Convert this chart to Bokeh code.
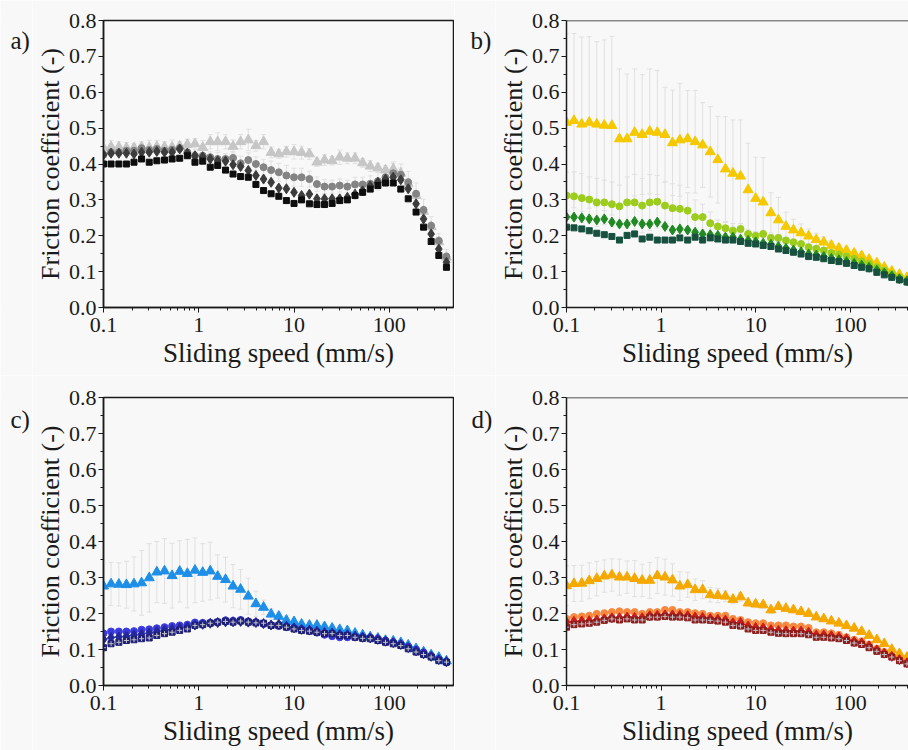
from bokeh.plotting import figure
from bokeh.models import FixedTicker, Label, Span
from bokeh.layouts import column, row
from bokeh.embed import file_html
from bokeh.resources import INLINE

FONT = "Liberation Serif"

# ---------------- data ----------------
speed = [0.1, 0.12, 0.145, 0.174, 0.209, 0.251, 0.302, 0.363, 0.437, 0.525, 0.631, 0.759, 0.912,
         1.1, 1.32, 1.58, 1.91, 2.29, 2.75, 3.31, 3.98, 4.79, 5.75, 6.92, 8.32,
         10.0, 12.0, 14.5, 17.4, 20.9, 25.1, 30.2, 36.3, 43.7, 52.5, 63.1, 75.9, 91.2,
         110, 132, 158, 191, 229, 275, 331, 398]

y_ticks = [0.0, 0.1, 0.2, 0.3, 0.4, 0.5, 0.6, 0.7, 0.8]
y_tick_labels = ["0.0", "0.1", "0.2", "0.3", "0.4", "0.5", "0.6", "0.7", "0.8"]
y_minor = [0.05, 0.15, 0.25, 0.35, 0.45, 0.55, 0.65, 0.75]
x_ticks = [0.1, 1, 10, 100]
x_tick_labels = ["0.1", "1", "10", "100"]
x_minor = [0.2, 0.3, 0.4, 0.5, 0.6, 0.7, 0.8, 0.9, 2, 3, 4, 5, 6, 7, 8, 9,
           20, 30, 40, 50, 60, 70, 80, 90, 200, 300, 400]

panel_tags = ["a)", "b)", "c)", "d)"]
x_label = "Sliding speed (mm/s)"
y_label = "Friction coefficient (-)"

# panel a (grey)
a_sq = [0.400, 0.400, 0.400, 0.400, 0.405, 0.414, 0.405, 0.409, 0.411, 0.414, 0.416, 0.423, 0.405,
        0.408, 0.391, 0.396, 0.383, 0.372, 0.365, 0.363, 0.343, 0.326, 0.317,
        0.310, 0.298, 0.290, 0.300, 0.289, 0.287, 0.287, 0.290, 0.298, 0.300, 0.312, 0.321,
        0.330, 0.340, 0.347, 0.347, 0.330, 0.303, 0.266, 0.224, 0.184, 0.145, 0.112]
a_di = [0.426, 0.430, 0.430, 0.430, 0.428, 0.433, 0.433, 0.435, 0.433, 0.433, 0.442, 0.430, 0.423,
        0.420, 0.414, 0.409, 0.408, 0.398, 0.393, 0.382, 0.368, 0.358, 0.349,
        0.333, 0.331, 0.321, 0.312, 0.316, 0.303, 0.303, 0.303, 0.303, 0.307, 0.316, 0.325,
        0.339, 0.349, 0.358, 0.363, 0.356, 0.331, 0.289, 0.247, 0.205, 0.163, 0.126]
a_ci = [0.426, 0.433, 0.433, 0.437, 0.437, 0.444, 0.439, 0.442, 0.437, 0.440, 0.444, 0.433, 0.423,
        0.423, 0.419, 0.414, 0.414, 0.417, 0.402, 0.411, 0.400, 0.391, 0.383,
        0.377, 0.368, 0.363, 0.363, 0.358, 0.344, 0.337, 0.337, 0.340, 0.337, 0.343, 0.343,
        0.345, 0.352, 0.363, 0.374, 0.370, 0.349, 0.317, 0.272, 0.228, 0.186, 0.142]
a_tr = [0.445, 0.448, 0.447, 0.445, 0.445, 0.447, 0.446, 0.448, 0.447, 0.447, 0.450, 0.454, 0.456,
        0.446, 0.462, 0.462, 0.462, 0.449, 0.462, 0.467, 0.451, 0.462, 0.432,
        0.428, 0.434, 0.434, 0.432, 0.428, 0.405, 0.411, 0.409, 0.419, 0.416, 0.416, 0.403,
        0.394, 0.389, 0.383, 0.386, 0.374, 0.345, 0.312, 0.268, 0.225, 0.183, 0.140]
a_tr_err = [0.020, 0.018, 0.015, 0.015, 0.012, 0.015, 0.020, 0.018, 0.015, 0.020, 0.012, 0.015, 0.015,
            0.020, 0.020, 0.025, 0.020, 0.018, 0.020, 0.030, 0.015, 0.020, 0.015,
            0.012, 0.015, 0.020, 0.018, 0.015, 0.012, 0.015, 0.012, 0.020, 0.015, 0.015, 0.012,
            0.015, 0.012, 0.012, 0.020, 0.015, 0.015, 0.012, 0.010, 0.010, 0.010, 0.010]
a_ci_err = [0.012, 0.012, 0.010, 0.012, 0.010, 0.012, 0.010, 0.012, 0.010, 0.012, 0.012, 0.015, 0.012,
            0.015, 0.015, 0.018, 0.015, 0.018, 0.020, 0.020, 0.020, 0.022, 0.025,
            0.025, 0.028, 0.025, 0.025, 0.022, 0.020, 0.020, 0.018, 0.018, 0.018, 0.020, 0.020,
            0.022, 0.025, 0.025, 0.027, 0.030, 0.030, 0.030, 0.030, 0.025, 0.020, 0.020]

# panel b (green / yellow)
b_sq = [0.224, 0.222, 0.219, 0.214, 0.207, 0.203, 0.198, 0.188, 0.201, 0.205, 0.191, 0.196, 0.188,
        0.188, 0.188, 0.194, 0.188, 0.196, 0.188, 0.194, 0.191, 0.188, 0.188,
        0.184, 0.179, 0.177, 0.173, 0.170, 0.163, 0.159, 0.154, 0.149, 0.142, 0.140, 0.136,
        0.131, 0.128, 0.123, 0.117, 0.112, 0.108, 0.098, 0.091, 0.084, 0.077, 0.071]
b_di = [0.252, 0.252, 0.250, 0.247, 0.244, 0.247, 0.238, 0.233, 0.233, 0.240, 0.233, 0.233, 0.238,
        0.226, 0.216, 0.219, 0.216, 0.210, 0.205, 0.203, 0.201, 0.196, 0.196,
        0.190, 0.187, 0.183, 0.179, 0.176, 0.170, 0.165, 0.160, 0.155, 0.149, 0.146, 0.142,
        0.137, 0.133, 0.128, 0.123, 0.118, 0.112, 0.104, 0.096, 0.088, 0.080, 0.074]
b_ci = [0.312, 0.310, 0.305, 0.301, 0.293, 0.293, 0.288, 0.282, 0.293, 0.293, 0.284, 0.293, 0.295,
        0.284, 0.277, 0.275, 0.270, 0.252, 0.252, 0.235, 0.226, 0.221, 0.214,
        0.219, 0.205, 0.200, 0.205, 0.194, 0.194, 0.187, 0.182, 0.177, 0.168, 0.164, 0.159,
        0.152, 0.148, 0.142, 0.136, 0.129, 0.122, 0.112, 0.103, 0.094, 0.084, 0.075]
b_tr = [0.516, 0.521, 0.511, 0.516, 0.511, 0.508, 0.507, 0.470, 0.470, 0.488, 0.482, 0.491, 0.488,
        0.482, 0.459, 0.467, 0.470, 0.462, 0.453, 0.434, 0.412, 0.386, 0.374,
        0.366, 0.328, 0.304, 0.294, 0.264, 0.244, 0.226, 0.216, 0.208, 0.199, 0.189, 0.182,
        0.173, 0.165, 0.159, 0.151, 0.144, 0.134, 0.124, 0.112, 0.101, 0.092, 0.083]
b_tr_err = [0.247, 0.243, 0.243, 0.239, 0.230, 0.238, 0.249, 0.195, 0.181, 0.177, 0.167, 0.174, 0.173,
            0.132, 0.147, 0.157, 0.135, 0.143, 0.118, 0.126, 0.121, 0.146, 0.149,
            0.157, 0.130, 0.115, 0.124, 0.056, 0.063, 0.040, 0.030, 0.025, 0.020, 0.018, 0.015,
            0.012, 0.012, 0.010, 0.010, 0.008, 0.008, 0.008, 0.006, 0.006, 0.005, 0.005]
b_ci_err = [0.065, 0.068, 0.068, 0.063, 0.067, 0.062, 0.062, 0.059, 0.071, 0.078, 0.076, 0.078, 0.073,
            0.066, 0.068, 0.066, 0.050, 0.048, 0.036, 0.031, 0.018, 0.016, 0.020,
            0.015, 0.012, 0.012, 0.010, 0.010, 0.010, 0.008, 0.008, 0.008, 0.007, 0.007, 0.006,
            0.006, 0.006, 0.005, 0.005, 0.005, 0.005, 0.005, 0.004, 0.004, 0.004, 0.004]

# panel c (blue)
c_sq = [0.105, 0.116, 0.120, 0.125, 0.127, 0.130, 0.132, 0.139, 0.144, 0.148, 0.153, 0.157, 0.167,
        0.169, 0.173, 0.176, 0.178, 0.176, 0.179, 0.176, 0.174, 0.173, 0.167,
        0.167, 0.162, 0.157, 0.153, 0.151, 0.148, 0.144, 0.144, 0.139, 0.139, 0.134, 0.131,
        0.130, 0.125, 0.120, 0.116, 0.111, 0.102, 0.093, 0.086, 0.079, 0.069, 0.065]
c_di = [0.128, 0.133, 0.135, 0.137, 0.140, 0.143, 0.146, 0.150, 0.153, 0.156, 0.160, 0.163, 0.168,
        0.170, 0.173, 0.175, 0.177, 0.177, 0.178, 0.176, 0.175, 0.172, 0.168,
        0.170, 0.165, 0.160, 0.156, 0.154, 0.151, 0.147, 0.146, 0.142, 0.141, 0.137, 0.134,
        0.132, 0.128, 0.123, 0.119, 0.114, 0.105, 0.096, 0.088, 0.081, 0.072, 0.066]
c_ci = [0.145, 0.150, 0.150, 0.150, 0.151, 0.155, 0.156, 0.159, 0.162, 0.165, 0.167, 0.169, 0.175,
        0.174, 0.174, 0.176, 0.181, 0.180, 0.182, 0.178, 0.176, 0.171, 0.167,
        0.165, 0.163, 0.160, 0.156, 0.152, 0.147, 0.141, 0.137, 0.134, 0.134, 0.135, 0.135,
        0.133, 0.130, 0.125, 0.120, 0.115, 0.108, 0.100, 0.092, 0.082, 0.073, 0.064]
c_tr = [0.276, 0.282, 0.281, 0.280, 0.282, 0.285, 0.299, 0.315, 0.318, 0.305, 0.317, 0.311, 0.320,
        0.314, 0.318, 0.303, 0.294, 0.276, 0.267, 0.248, 0.227, 0.217, 0.198,
        0.192, 0.181, 0.177, 0.170, 0.167, 0.167, 0.163, 0.159, 0.155, 0.152, 0.145, 0.140,
        0.135, 0.131, 0.125, 0.123, 0.119, 0.112, 0.102, 0.093, 0.085, 0.078, 0.068]
c_tr_err = [0.065, 0.060, 0.060, 0.065, 0.075, 0.090, 0.095, 0.085, 0.090, 0.090, 0.085, 0.095, 0.090,
            0.080, 0.080, 0.060, 0.062, 0.060, 0.055, 0.050, 0.035, 0.020, 0.015,
            0.012, 0.012, 0.010, 0.010, 0.010, 0.008, 0.008, 0.008, 0.008, 0.006, 0.006, 0.006,
            0.006, 0.006, 0.005, 0.005, 0.005, 0.005, 0.005, 0.005, 0.004, 0.004, 0.004]

# panel d (red / orange)
d_sq = [0.162, 0.169, 0.171, 0.173, 0.176, 0.181, 0.185, 0.182, 0.185, 0.182, 0.182, 0.190, 0.190,
        0.192, 0.190, 0.190, 0.188, 0.182, 0.182, 0.181, 0.179, 0.176, 0.167,
        0.165, 0.157, 0.153, 0.153, 0.148, 0.145, 0.144, 0.144, 0.144, 0.141, 0.134, 0.134,
        0.132, 0.130, 0.125, 0.118, 0.114, 0.105, 0.095, 0.086, 0.079, 0.069, 0.060]
d_di = [0.176, 0.178, 0.179, 0.180, 0.182, 0.185, 0.188, 0.188, 0.190, 0.189, 0.188, 0.194, 0.195,
        0.196, 0.196, 0.195, 0.194, 0.190, 0.189, 0.186, 0.184, 0.182, 0.174,
        0.175, 0.165, 0.161, 0.160, 0.155, 0.153, 0.152, 0.151, 0.151, 0.148, 0.140, 0.140,
        0.138, 0.135, 0.130, 0.122, 0.118, 0.110, 0.099, 0.090, 0.081, 0.072, 0.063]
d_ci = [0.185, 0.190, 0.192, 0.194, 0.199, 0.201, 0.204, 0.206, 0.204, 0.204, 0.199, 0.204, 0.204,
        0.210, 0.210, 0.204, 0.204, 0.201, 0.199, 0.194, 0.194, 0.194, 0.185,
        0.182, 0.176, 0.173, 0.173, 0.167, 0.167, 0.167, 0.164, 0.164, 0.160, 0.148, 0.148,
        0.145, 0.141, 0.134, 0.127, 0.123, 0.114, 0.102, 0.093, 0.083, 0.074, 0.065]
d_tr = [0.277, 0.283, 0.284, 0.291, 0.297, 0.304, 0.307, 0.301, 0.301, 0.297, 0.292, 0.292, 0.305,
        0.301, 0.293, 0.276, 0.280, 0.266, 0.266, 0.252, 0.250, 0.248, 0.239,
        0.246, 0.229, 0.226, 0.224, 0.210, 0.219, 0.214, 0.210, 0.205, 0.200, 0.190, 0.185,
        0.179, 0.173, 0.166, 0.159, 0.150, 0.139, 0.127, 0.116, 0.100, 0.088, 0.078]
d_tr_err = [0.055, 0.050, 0.050, 0.050, 0.048, 0.045, 0.045, 0.050, 0.045, 0.050, 0.045, 0.050, 0.050,
            0.050, 0.045, 0.040, 0.035, 0.030, 0.025, 0.020, 0.020, 0.015, 0.012,
            0.012, 0.010, 0.010, 0.010, 0.010, 0.008, 0.008, 0.008, 0.008, 0.006, 0.006, 0.006,
            0.006, 0.005, 0.005, 0.005, 0.005, 0.005, 0.005, 0.004, 0.004, 0.004, 0.004]

# ---------------- styles ----------------
BG = "#f8f8f8"
ERR = "#e0e0e0"
TXT = "#1a1a1a"


def make_tag(tag, width, height, tx, ty):
    t = figure(width=width, height=height, x_range=(0, width), y_range=(0, height),
               x_axis_location=None, y_axis_location=None, min_border=0,
               output_backend="svg", toolbar_location=None)
    t.background_fill_color = BG
    t.border_fill_color = BG
    t.outline_line_color = None
    t.grid.visible = False
    t.add_layout(Label(x=tx, y=height - ty, text=tag, text_align="left",
                       text_baseline="alphabetic", text_font=FONT,
                       text_font_size="25px", text_color=TXT))
    return t


def make_panel(width, height, mb_left, mb_top, mb_bottom, x_end, right_box,
               series, errs, line=None, hatch=False):
    p = figure(width=width, height=height, x_axis_type="log",
               x_range=(0.1, x_end), y_range=(0, 0.8),
               output_backend="svg", toolbar_location=None,
               min_border_left=mb_left, min_border_right=1 if right_box else 0,
               min_border_top=mb_top, min_border_bottom=mb_bottom)
    p.background_fill_color = BG
    p.border_fill_color = BG
    p.grid.visible = False
    if right_box:
        p.outline_line_color = TXT
        p.outline_line_width = 1.5
    else:
        p.outline_line_color = None
        p.add_layout(Span(location=0.8, dimension="width", line_color=TXT, line_width=1.5))

    for ax in (p.xaxis[0], p.yaxis[0]):
        ax.axis_line_color = TXT
        ax.axis_line_width = 1.5
        ax.major_tick_line_color = TXT
        ax.minor_tick_line_color = TXT
        ax.major_tick_out = 5
        ax.major_tick_in = 0
        ax.minor_tick_out = 3
        ax.minor_tick_in = 0
        ax.major_label_text_font = FONT
        ax.major_label_text_font_size = "22px"
        ax.major_label_text_color = TXT
        ax.axis_label_text_font = FONT
        ax.axis_label_text_font_style = "normal"
        ax.axis_label_text_color = TXT

    p.xaxis.ticker = FixedTicker(ticks=x_ticks, minor_ticks=x_minor)
    p.xaxis.major_label_overrides = {t: l for t, l in zip(x_ticks, x_tick_labels)}
    p.xaxis.major_label_standoff = 5
    p.xaxis.axis_label = x_label
    p.xaxis.axis_label_text_font_size = "27px"
    p.xaxis.axis_label_standoff = 3
    p.yaxis.ticker = FixedTicker(ticks=y_ticks, minor_ticks=y_minor)
    p.yaxis.major_label_overrides = {t: l for t, l in zip(y_ticks, y_tick_labels)}
    p.yaxis.major_label_standoff = 2
    p.yaxis.axis_label = y_label
    p.yaxis.axis_label_text_font_size = "26px"
    p.yaxis.axis_label_standoff = 1

    # error bars
    for vals, err in errs:
        hi = [v + e for v, e in zip(vals, err)]
        lo = [v - e for v, e in zip(vals, err)]
        p.segment(x0=speed, y0=lo, x1=speed, y1=hi, line_color=ERR, line_width=1)
        p.scatter(x=speed, y=hi, marker="dash", size=5, line_color=ERR, line_width=1)
        p.scatter(x=speed, y=lo, marker="dash", size=5, line_color=ERR, line_width=1)

    # markers: triangles, circles, (line), diamonds, squares
    (tr, tr_c), (ci, ci_c), (di, di_c), (sq, sq_c) = series
    p.scatter(x=speed, y=tr, marker="triangle", size=10, fill_color=tr_c, line_color=tr_c)
    p.scatter(x=speed, y=ci, marker="circle", size=7, fill_color=ci_c, line_color=ci_c)
    if line is not None:
        p.line(x=speed, y=line[0], line_color=line[1], line_width=1.6)
    p.scatter(x=speed, y=di, marker="diamond", size=10, fill_color=di_c, line_color=di_c)
    p.scatter(x=speed, y=sq, marker="square", size=6, fill_color=sq_c, line_color=sq_c)
    if hatch:
        p.scatter(x=speed, y=sq, marker="cross", size=5, line_color="#c4c4cc", line_width=1)
    return p


# top row: 375 px tall, bottom row 375 px tall; columns 454 + 454
ta = make_tag(panel_tags[0], 32, 375, 10, 26)
pa = make_panel(422, 375, 65, 20, 68, 472, True,
                [(a_tr, "#c6c6c6"), (a_ci, "#848484"), (a_di, "#3c3c3c"), (a_sq, "#0e0e0e")],
                [(a_tr, a_tr_err), (a_ci, a_ci_err)])
tb = make_tag(panel_tags[1], 41, 375, 16, 26)
pb = make_panel(413, 375, 63, 20, 68, 413, False,
                [(b_tr, "#f5c800"), (b_ci, "#9ccc1c"), (b_di, "#1f8a22"), (b_sq, "#17503e")],
                [(b_tr, b_tr_err), (b_ci, b_ci_err)])
tc = make_tag(panel_tags[2], 32, 375, 10, 28)
pc = make_panel(422, 375, 65, 22, 65, 472, True,
                [(c_tr, "#1e8fe8"), (c_ci, "#3a3adc"), (c_di, "#26269c"), (c_sq, "#1e1e74")],
                [(c_tr, c_tr_err)], line=(c_di, "#2f86b4"), hatch=True)
td = make_tag(panel_tags[3], 41, 375, 17, 28)
pd_ = make_panel(413, 375, 63, 22, 65, 413, False,
                 [(d_tr, "#f5a800"), (d_ci, "#f7883e"), (d_di, "#c81e1e"), (d_sq, "#8a1c1c")],
                 [(d_tr, d_tr_err)], line=(d_di, "#d41414"), hatch=True)

layout = column(row(ta, pa, tb, pb, spacing=0), row(tc, pc, td, pd_, spacing=0), spacing=0)
open("out.html", "w").write(file_html(layout, INLINE))
